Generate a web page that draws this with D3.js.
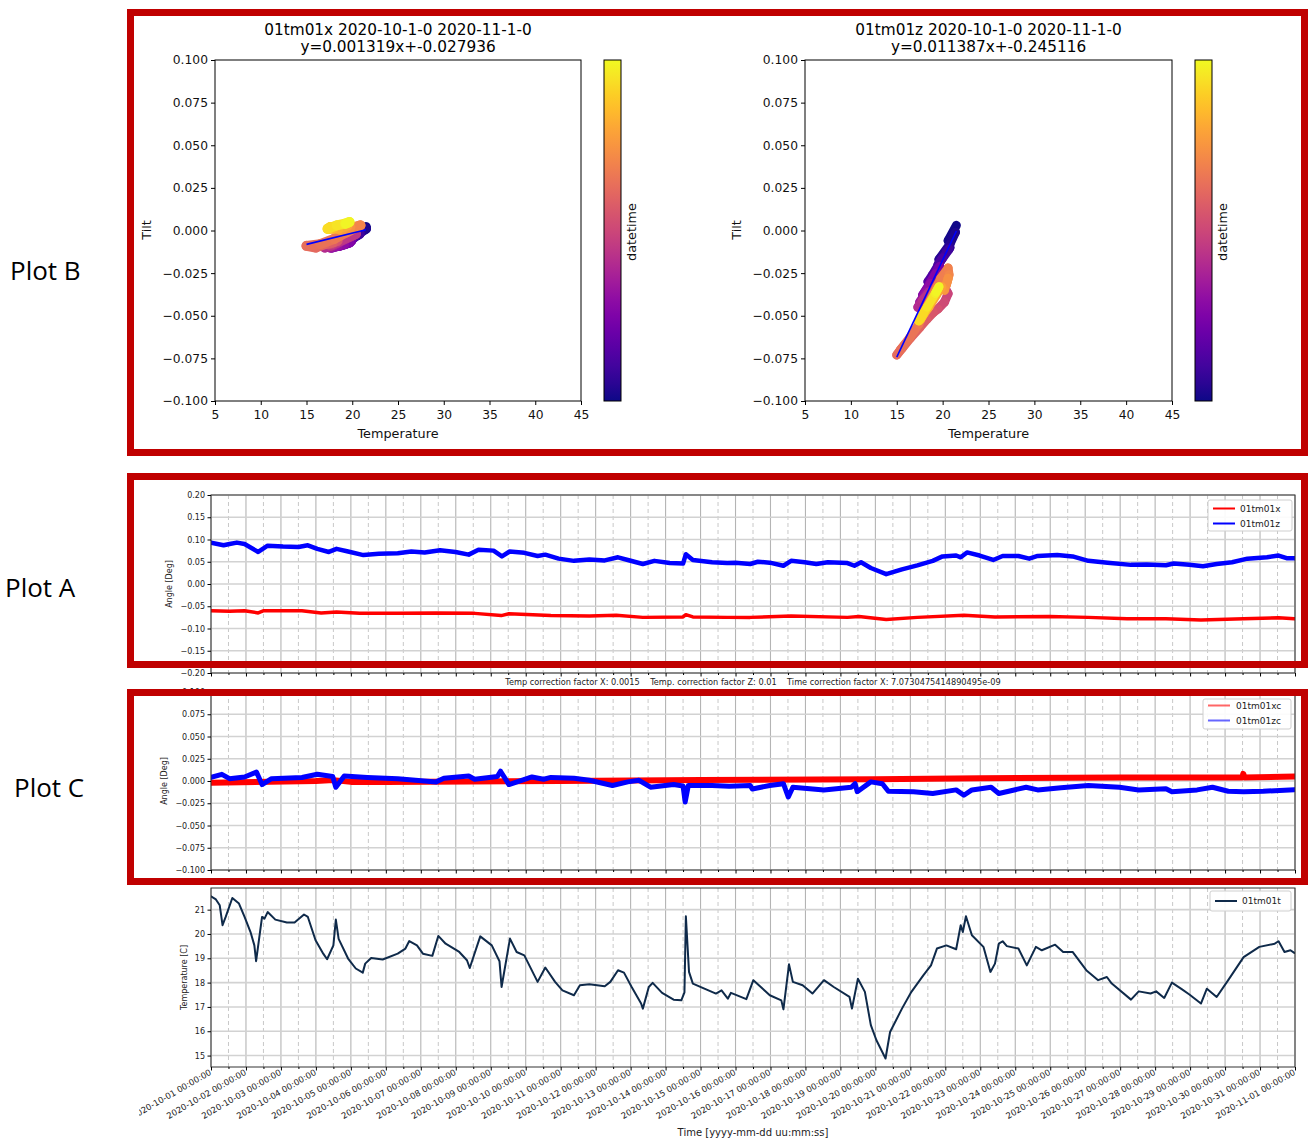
<!DOCTYPE html>
<html>
<head>
<meta charset="utf-8">
<script src="https://cdn.jsdelivr.net/npm/d3@7"></script>
<style>
  body { margin: 0; background: #fff; }
  svg { display: block; }
  text { font-family: "DejaVu Sans", sans-serif; fill: #222; }
  .side { font-family: "Open Sans", "Noto Sans", sans-serif; fill: #000; }
</style>
</head>
<body>
<svg id="fig" width="1309" height="1140"></svg>
<script>
// ---------- data ----------
// Tilt vs temperature scatter, [day since 2020-10-01, temperature, tilt]
const scatterX = [
  [0.0,21.5,0.002],[0.3,20.5,-0.001],[0.6,21.5,0.001],[1.0,20.6,-0.002],[1.3,20.1,-0.004],[1.6,20.9,-0.001],
  [2.2,20.5,-0.003],[2.8,20.8,-0.002],[3.2,19.3,-0.005],[3.6,20.2,-0.004],[4.1,18.9,-0.008],[4.4,18.4,-0.009],
  [5.0,19.0,-0.008],[5.6,19.7,-0.007],[6.3,19.2,-0.008],[6.6,19.9,-0.006],[7.4,18.6,-0.009],[8.0,19.7,-0.007],
  [8.3,17.8,-0.010],[9.0,19.1,-0.008],[9.6,18.4,-0.009],[10.2,17.6,-0.010],[11.0,17.9,-0.009],[11.7,18.5,-0.007],
  [12.4,17.0,-0.010],[13.0,17.6,-0.009],[13.6,20.4,-0.002],[14.0,17.8,-0.008],[15.0,17.5,-0.008],[16.0,17.4,-0.008],
  [16.6,18.4,-0.006],[17.5,17.9,-0.007],[18.3,17.0,-0.008],[18.9,16.0,-0.010],[19.3,15.0,-0.009],[19.8,16.5,-0.008],
  [20.3,18.0,-0.005],[20.8,19.4,-0.001],[21.3,20.5,0.002],[21.6,20.9,0.003],[22.2,19.5,0.001],[22.6,19.8,0.002],
  [23.3,18.8,0.000],[24.2,19.5,0.003],[25.0,18.5,0.001],[25.8,17.9,0.001],[26.5,17.5,0.001],[27.3,17.4,0.001],
  [28.0,17.6,0.002],[28.5,17.3,0.001],[29.2,18.3,0.003],[29.8,19.2,0.004],[30.5,19.7,0.005],[31.0,19.3,0.004]
];
const scatterZ = [
  [0.0,21.5,0.003],[0.3,20.6,-0.006],[0.6,21.4,-0.001],[1.0,20.8,-0.008],[1.3,19.6,-0.017],[1.6,20.8,-0.010],
  [2.2,20.4,-0.012],[2.8,20.7,-0.011],[3.2,19.5,-0.020],[3.6,20.0,-0.016],[4.1,18.9,-0.026],[4.4,18.4,-0.030],
  [5.0,18.9,-0.028],[5.6,19.5,-0.022],[6.3,19.1,-0.027],[6.6,19.7,-0.021],[7.4,18.6,-0.031],[8.0,19.3,-0.025],
  [8.3,17.8,-0.038],[9.0,18.7,-0.031],[9.6,18.2,-0.036],[10.2,17.5,-0.042],[11.0,17.9,-0.040],[11.7,18.5,-0.036],
  [12.4,17.3,-0.045],[13.0,17.8,-0.041],[13.6,19.8,-0.030],[14.2,20.3,-0.034],[15.0,20.6,-0.037],[15.6,20.2,-0.042],
  [16.3,19.5,-0.046],[17.0,19.0,-0.048],[17.6,18.3,-0.052],[18.2,17.5,-0.057],[18.7,16.5,-0.063],[19.0,15.6,-0.069],
  [19.3,15.0,-0.073],[19.6,15.4,-0.070],[20.0,16.4,-0.063],[20.4,17.4,-0.055],[20.9,19.8,-0.028],[21.4,20.6,-0.022],
  [21.7,20.7,-0.026],[22.2,20.4,-0.032],[22.6,20.6,-0.028],[23.2,20.2,-0.035],[24.0,19.9,-0.033],[24.7,19.3,-0.038],
  [25.4,18.5,-0.045],[26.2,17.7,-0.051],[27.0,17.9,-0.049],[27.8,17.6,-0.052],[28.4,17.4,-0.053],[29.2,18.3,-0.045],
  [29.8,19.2,-0.037],[30.5,19.6,-0.033],[31.0,19.3,-0.036]
];
const scatterNames = ["01tm01x", "01tm01z"];
const fitSlopes = [0.001319, 0.011387];
const fitIntercepts = [-0.027936, -0.245116];
const periodLabel = "2020-10-1-0 2020-11-1-0";

// Raw angles, [day, deg]
const angleX = [
  [0,-0.060],[0.53,-0.061],[0.96,-0.060],[1.35,-0.065],[1.51,-0.060],[2.6,-0.060],[3.15,-0.065],[3.59,-0.063],
  [4.25,-0.066],[5.34,-0.066],[6.44,-0.065],[7.54,-0.066],[8.3,-0.071],[8.52,-0.067],[9.72,-0.071],[10.82,-0.072],
  [11.59,-0.070],[12.35,-0.075],[13.5,-0.074],[13.58,-0.069],[13.78,-0.074],[14.76,-0.075],[15.42,-0.075],
  [16.59,-0.072],[18.2,-0.075],[18.53,-0.073],[19.31,-0.080],[20.2,-0.075],[21.53,-0.070],[22.42,-0.074],
  [23.98,-0.073],[25.09,-0.075],[26.2,-0.078],[27.31,-0.078],[28.31,-0.081],[29.53,-0.078],[30.53,-0.076],[30.98,-0.078]
];
const angleZ = [
  [0,0.093],[0.36,0.087],[0.53,0.090],[0.74,0.093],[0.96,0.090],[1.35,0.072],[1.62,0.086],[2.06,0.084],[2.5,0.083],
  [2.77,0.087],[3.04,0.079],[3.37,0.072],[3.59,0.079],[3.92,0.073],[4.36,0.065],[4.8,0.068],[5.34,0.069],[5.73,0.073],
  [6.11,0.071],[6.55,0.076],[6.99,0.072],[7.37,0.066],[7.65,0.077],[8.08,0.075],[8.32,0.062],[8.54,0.073],[8.96,0.070],
  [9.34,0.063],[9.56,0.066],[9.94,0.057],[10.38,0.052],[10.82,0.055],[11.26,0.053],[11.64,0.060],[11.92,0.054],
  [12.35,0.045],[12.68,0.052],[13.12,0.047],[13.5,0.046],[13.58,0.067],[13.78,0.054],[14.33,0.049],[14.76,0.047],
  [15.0,0.048],[15.42,0.045],[15.64,0.050],[15.98,0.048],[16.37,0.041],[16.59,0.052],[16.98,0.049],[17.31,0.045],
  [17.64,0.049],[18.2,0.047],[18.4,0.041],[18.59,0.049],[18.87,0.036],[19.31,0.022],[19.76,0.033],[20.2,0.042],
  [20.64,0.052],[20.92,0.062],[21.31,0.064],[21.44,0.060],[21.62,0.071],[21.98,0.064],[22.37,0.054],[22.64,0.063],
  [23.09,0.063],[23.4,0.057],[23.64,0.063],[24.2,0.065],[24.64,0.062],[25.09,0.052],[25.64,0.048],[26.31,0.043],
  [26.76,0.044],[27.31,0.042],[27.53,0.046],[27.98,0.043],[28.37,0.040],[28.76,0.045],[29.2,0.049],[29.64,0.057],
  [30.2,0.060],[30.53,0.064],[30.76,0.058],[30.98,0.058]
];
// Corrected angles, [day, deg]
const angleXc = [
  [0,-0.002],[3.0,0.000],[3.5,0.001],[4.0,-0.001],[5,-0.001],[10,0.000],[14,0.001],[19,0.002],[22,0.003],[26,0.004],
  [29.5,0.004],[29.52,0.008],[29.55,0.004],[31,0.005]
];
const angleZc = [
  [0,0.004],[0.31,0.0075],[0.53,0.0026],[0.96,0.0045],[1.3,0.010],[1.46,-0.004],[1.73,0.0026],[2.6,0.004],[3.04,0.0075],
  [3.48,0.005],[3.57,-0.007],[3.81,0.0056],[4.47,0.004],[5.34,0.0026],[6.44,-0.001],[6.66,0.003],[7.37,0.0056],[7.54,0.002],
  [8.19,0.005],[8.28,0.011],[8.52,-0.004],[9.18,0.0045],[9.51,0.002],[9.72,0.004],[10.38,0.003],[10.82,0.0008],
  [11.48,-0.005],[11.92,-0.001],[12.24,0.0008],[12.57,-0.007],[13.23,-0.004],[13.5,-0.0056],[13.56,-0.0235],[13.65,-0.005],
  [14.33,-0.005],[14.82,-0.006],[15.42,-0.005],[15.48,-0.009],[15.98,-0.005],[16.37,-0.003],[16.51,-0.018],[16.64,-0.007],
  [17.53,-0.010],[18.31,-0.007],[18.42,-0.003],[18.48,-0.012],[18.87,-0.001],[19.2,-0.003],[19.37,-0.0115],[20.09,-0.012],
  [20.64,-0.014],[21.31,-0.010],[21.53,-0.016],[21.76,-0.010],[22.31,-0.007],[22.53,-0.014],[23.31,-0.007],[23.64,-0.010],
  [24.31,-0.0075],[25.09,-0.005],[25.98,-0.007],[26.53,-0.010],[27.31,-0.0086],[27.48,-0.012],[28.2,-0.010],[28.64,-0.007],
  [29.09,-0.0115],[29.53,-0.012],[30.09,-0.0115],[30.98,-0.0097]
];
// Temperature, [day, deg C]
const temperature = [
  [0,21.55],[0.14,21.42],[0.25,21.18],[0.33,20.36],[0.42,20.7],[0.61,21.48],[0.8,21.25],[0.96,20.7],[1.13,20.08],
  [1.24,19.53],[1.29,18.88],[1.46,20.7],[1.53,20.63],[1.62,20.9],[1.84,20.59],[2.17,20.47],[2.39,20.47],[2.66,20.8],
  [2.77,20.7],[2.99,19.74],[3.21,19.19],[3.32,18.96],[3.5,19.53],[3.57,20.59],[3.65,19.8],[3.92,18.99],[4.14,18.58],
  [4.34,18.41],[4.41,18.78],[4.58,19.01],[4.91,18.95],[5.34,19.19],[5.56,19.4],[5.67,19.71],[5.89,19.53],[6.06,19.19],
  [6.33,19.1],[6.5,19.92],[6.71,19.6],[7.1,19.26],[7.32,18.92],[7.4,18.6],[7.7,19.9],[8.03,19.53],[8.25,18.88],
  [8.31,17.82],[8.55,19.81],[8.74,19.26],[8.96,19.12],[9.34,18.03],[9.56,18.62],[9.84,18.03],[10.05,17.68],
  [10.38,17.48],[10.55,17.89],[10.82,17.93],[11.26,17.85],[11.42,18.03],[11.64,18.51],[11.81,18.41],[12.03,17.82],
  [12.3,17.14],[12.35,16.93],[12.52,17.82],[12.63,17.99],[12.9,17.58],[13.23,17.3],[13.45,17.27],[13.54,17.6],
  [13.58,20.73],[13.67,18.44],[13.78,17.96],[14.11,17.75],[14.44,17.55],[14.6,17.68],[14.78,17.34],[14.87,17.58],
  [15.31,17.32],[15.51,18.1],[15.98,17.48],[16.31,17.27],[16.37,16.9],[16.53,18.75],[16.64,18.03],[16.92,17.89],
  [17.2,17.55],[17.53,18.1],[17.81,17.82],[18.26,17.41],[18.33,16.93],[18.5,18.16],[18.7,17.62],[18.87,16.25],
  [19.03,15.63],[19.29,14.88],[19.42,15.97],[19.76,16.93],[20.03,17.62],[20.37,18.3],[20.59,18.71],[20.76,19.4],
  [21.03,19.53],[21.31,19.37],[21.44,20.36],[21.5,20.08],[21.59,20.73],[21.76,19.95],[22.09,19.47],[22.29,18.44],
  [22.42,18.78],[22.53,19.6],[22.64,19.7],[22.76,19.5],[23.09,19.4],[23.33,18.71],[23.59,19.47],[23.76,19.33],
  [24.14,19.56],[24.37,19.26],[24.64,19.26],[25.03,18.51],[25.37,18.1],[25.62,18.23],[25.76,17.96],[26.31,17.3],
  [26.53,17.64],[26.87,17.55],[27.03,17.64],[27.26,17.37],[27.48,18.0],[27.76,17.73],[27.98,17.51],[28.31,17.14],
  [28.48,17.75],[28.76,17.41],[29.09,18.1],[29.53,19.05],[29.98,19.47],[30.42,19.6],[30.53,19.7],[30.7,19.26],
  [30.87,19.33],[30.98,19.22]
];

const tiltTicks = [-0.1, -0.075, -0.05, -0.025, 0, 0.025, 0.05, 0.075, 0.1];
const tempAxisTicks = [5, 10, 15, 20, 25, 30, 35, 40, 45];
const angleTicksA = [-0.2, -0.15, -0.1, -0.05, 0, 0.05, 0.1, 0.15, 0.2];
const angleTicksC = [-0.1, -0.075, -0.05, -0.025, 0, 0.025, 0.05, 0.075, 0.1];
const tempTicks = [15, 16, 17, 18, 19, 20, 21];
const correctionNote = "Temp correction factor X: 0.0015    Temp. correction factor Z: 0.01    Time correction factor X: 7.0730475414890495e-09";
const sideLabels = ["Plot B", "Plot A", "Plot C"];

// ---------- drawing ----------
const svg = d3.select("#fig");
const defs = svg.append("defs");
const plasma = d3.interpolatePlasma;
const DAY = 864e5;
const t0 = Date.UTC(2020, 9, 1);
const toDate = d => new Date(t0 + d * DAY);

// colorbar gradient
const grad = defs.append("linearGradient").attr("id", "plasmaGrad")
  .attr("x1", 0).attr("y1", 1).attr("x2", 0).attr("y2", 0);
d3.range(0, 1.0001, 0.05).forEach(t => grad.append("stop").attr("offset", t).attr("stop-color", plasma(t)));

function scatterPanel(cfg) {
  const g = svg.append("g");
  const xs = d3.scaleLinear().domain([5, 45]).range([cfg.x0, cfg.x1]);
  const ys = d3.scaleLinear().domain([-0.1, 0.1]).range([401, 60]);
  const cx = (cfg.x0 + cfg.x1) / 2;

  g.append("text").attr("x", cx).attr("y", 35).attr("text-anchor", "middle")
    .style("font-size", "15.3px").style("fill", "#000").text(cfg.name + " " + periodLabel);
  g.append("text").attr("x", cx).attr("y", 52).attr("text-anchor", "middle")
    .style("font-size", "15.3px").style("fill", "#000")
    .text("y=" + cfg.slope.toFixed(6) + "x+" + cfg.intercept.toFixed(6));

  const clipId = "clip-" + cfg.name;
  defs.append("clipPath").attr("id", clipId).append("rect")
    .attr("x", cfg.x0).attr("y", 60).attr("width", cfg.x1 - cfg.x0).attr("height", 341);
  const marks = g.append("g").attr("clip-path", `url(#${clipId})`);

  const pts = cfg.data;
  const segs = d3.pairs(pts);
  marks.selectAll("line.seg").data(segs).join("line")
    .attr("x1", d => xs(d[0][1])).attr("y1", d => ys(d[0][2]))
    .attr("x2", d => xs(d[1][1])).attr("y2", d => ys(d[1][2]))
    .attr("stroke", d => plasma((d[0][0] + d[1][0]) / 2 / 31))
    .attr("stroke-width", cfg.markWidth).attr("stroke-linecap", "round");

  const ext = d3.extent(pts, d => d[1]);
  marks.append("line")
    .attr("x1", xs(ext[0])).attr("y1", ys(cfg.slope * ext[0] + cfg.intercept))
    .attr("x2", xs(ext[1])).attr("y2", ys(cfg.slope * ext[1] + cfg.intercept))
    .attr("stroke", "#0000ff").attr("stroke-width", 1.6);

  g.append("rect").attr("x", cfg.x0).attr("y", 60).attr("width", cfg.x1 - cfg.x0).attr("height", 341)
    .attr("fill", "none").attr("stroke", "#000").attr("stroke-width", 1);

  const ax = g.append("g").attr("transform", "translate(0,401)")
    .call(d3.axisBottom(xs).tickValues(tempAxisTicks).tickFormat(d3.format("d")).tickSize(4).tickPadding(5));
  const ay = g.append("g").attr("transform", `translate(${cfg.x0},0)`)
    .call(d3.axisLeft(ys).tickValues(tiltTicks).tickFormat(d3.format(".3f")).tickSize(4).tickPadding(3));
  [ax, ay].forEach(a => {
    a.select(".domain").remove();
    a.selectAll("text").style("font-size", "12.3px").style("font-family", "DejaVu Sans").style("fill", "#111");
  });

  g.append("text").attr("x", cx).attr("y", 438).attr("text-anchor", "middle")
    .style("font-size", "12.8px").style("fill", "#111").text("Temperature");
  g.append("text").attr("transform", `translate(${cfg.x0 - 64},230) rotate(-90)`).attr("text-anchor", "middle")
    .style("font-size", "12.8px").style("fill", "#111").text("Tilt");

  g.append("rect").attr("x", cfg.cb).attr("y", 60).attr("width", 17).attr("height", 341)
    .attr("fill", "url(#plasmaGrad)").attr("stroke", "#000").attr("stroke-width", 1);
  g.append("text").attr("transform", `translate(${cfg.cb + 32},232) rotate(-90)`).attr("text-anchor", "middle")
    .style("font-size", "12.8px").style("fill", "#111").text("datetime");
}

scatterPanel({ name: scatterNames[0], data: scatterX, slope: fitSlopes[0], intercept: fitIntercepts[0], x0: 215, x1: 581, cb: 604, markWidth: 10 });
scatterPanel({ name: scatterNames[1], data: scatterZ, slope: fitSlopes[1], intercept: fitIntercepts[1], x0: 805, x1: 1172, cb: 1195, markWidth: 9 });

// shared time axis
const xTime = d3.scaleUtc().domain([new Date(t0), new Date(Date.UTC(2020, 10, 1))]).range([211, 1295]);
const days = d3.utcDay.range(xTime.domain()[0], new Date(+xTime.domain()[1] + 1));
const halfDays = days.slice(0, -1).map(d => d3.utcHour.offset(d, 12));
const dateFmt = d3.utcFormat("%Y-%m-%d %H:%M:%S");

function timePanel(cfg) {
  const g = svg.append("g");
  const [x0, x1] = xTime.range();
  const y = d3.scaleLinear().domain(cfg.yDomain).range([cfg.bottom, cfg.top]);

  // grid
  g.append("g").selectAll("line").data(halfDays).join("line")
    .attr("x1", d => xTime(d)).attr("x2", d => xTime(d)).attr("y1", cfg.top).attr("y2", cfg.bottom)
    .attr("stroke", "#c8c8c8").attr("stroke-width", 1).attr("stroke-dasharray", "4,3");
  g.append("g").selectAll("line").data(days).join("line")
    .attr("x1", d => xTime(d)).attr("x2", d => xTime(d)).attr("y1", cfg.top).attr("y2", cfg.bottom)
    .attr("stroke", "#b4b4b4").attr("stroke-width", 1.1);
  g.append("g").selectAll("line").data(cfg.yTicks).join("line")
    .attr("x1", x0).attr("x2", x1).attr("y1", d => y(d)).attr("y2", d => y(d))
    .attr("stroke", "#d2d2d2").attr("stroke-width", 1.6);

  // series
  const clipId = "clip-" + cfg.id;
  defs.append("clipPath").attr("id", clipId).append("rect")
    .attr("x", x0).attr("y", cfg.top).attr("width", x1 - x0).attr("height", cfg.bottom - cfg.top);
  const lines = g.append("g").attr("clip-path", `url(#${clipId})`);
  const line = d3.line().x(d => xTime(toDate(d[0]))).y(d => y(d[1]));
  cfg.series.forEach(s => {
    lines.append("path").datum(s.data).attr("d", line)
      .attr("fill", "none").attr("stroke", s.color).attr("stroke-width", s.width)
      .attr("stroke-linejoin", "round").attr("stroke-linecap", "round");
  });

  // frame
  g.append("rect").attr("x", x0).attr("y", cfg.top).attr("width", x1 - x0).attr("height", cfg.bottom - cfg.top)
    .attr("fill", "none").attr("stroke", "#333").attr("stroke-width", 1);

  // axes
  const ay = g.append("g").attr("transform", `translate(${x0},0)`)
    .call(d3.axisLeft(y).tickValues(cfg.yTicks).tickFormat(cfg.fmt).tickSize(3.5).tickPadding(2.5));
  ay.select(".domain").remove();
  ay.selectAll("text").style("font-size", "8px").style("font-family", "DejaVu Sans").style("fill", "#222");

  const axM = g.append("g").attr("transform", `translate(0,${cfg.bottom})`)
    .call(d3.axisBottom(xTime).tickValues(days).tickFormat("").tickSize(3.5));
  const axm = g.append("g").attr("transform", `translate(0,${cfg.bottom})`)
    .call(d3.axisBottom(xTime).tickValues(halfDays).tickFormat("").tickSize(2));
  axM.select(".domain").remove();
  axm.select(".domain").remove();

  g.append("text").attr("transform", `translate(${cfg.yLabelX},${(cfg.top + cfg.bottom) / 2}) rotate(-90)`)
    .attr("text-anchor", "middle").style("font-size", "8px").style("fill", "#222").text(cfg.yLabel);

  // legend
  const L = cfg.legend;
  const lg = g.append("g");
  lg.append("rect").attr("x", L.x).attr("y", L.y).attr("width", L.w).attr("height", L.h).attr("rx", 2)
    .attr("fill", "#fff").attr("fill-opacity", 0.9).attr("stroke", "#cfcfcf").attr("stroke-width", 1);
  cfg.series.forEach((s, i) => {
    const ly = L.y + L.first + i * L.step;
    lg.append("line").attr("x1", L.x + 5).attr("x2", L.x + 27).attr("y1", ly).attr("y2", ly)
      .attr("stroke", s.color).attr("stroke-width", 2).attr("stroke-opacity", s.legendOpacity || 1);
    lg.append("text").attr("x", L.x + L.textDx).attr("y", ly + 3).style("font-size", "9px").style("fill", "#222").text(s.name);
  });
  return g;
}

timePanel({
  id: "A", top: 495, bottom: 673, yDomain: [-0.2, 0.2], yTicks: angleTicksA, fmt: d3.format(".2f"),
  yLabel: "Angle [Deg]", yLabelX: 172,
  series: [
    { name: "01tm01x", data: angleX, color: "#ff0000", width: 3.5 },
    { name: "01tm01z", data: angleZ, color: "#0000ff", width: 4.5 }
  ],
  legend: { x: 1208, y: 500, w: 84, h: 31, first: 8.5, step: 15, textDx: 32 }
});

timePanel({
  id: "C", top: 692, bottom: 870, yDomain: [-0.1, 0.1], yTicks: angleTicksC, fmt: d3.format(".3f"),
  yLabel: "Angle [Deg]", yLabelX: 167,
  series: [
    { name: "01tm01xc", data: angleXc, color: "#ff0000", width: 6, legendOpacity: 0.6 },
    { name: "01tm01zc", data: angleZc, color: "#0000ff", width: 5, legendOpacity: 0.6 }
  ],
  legend: { x: 1203, y: 699, w: 88, h: 30, first: 6.5, step: 15, textDx: 33 }
});

timePanel({
  id: "T", top: 888, bottom: 1067, yDomain: [14.53, 21.89], yTicks: tempTicks, fmt: d3.format("d"),
  yLabel: "Temperature [C]", yLabelX: 187,
  series: [
    { name: "01tm01t", data: temperature, color: "#0f2a4a", width: 2 }
  ],
  legend: { x: 1210, y: 891, w: 81, h: 20, first: 10, step: 15, textDx: 32 }
});

// correction note between the angle panels
svg.append("text").attr("x", 753).attr("y", 685).attr("text-anchor", "middle")
  .style("font-size", "8.2px").style("white-space", "pre").style("fill", "#222").text(correctionNote);

// date tick labels
defs.append("clipPath").attr("id", "clip-dates").append("rect")
  .attr("x", 139).attr("y", 1066).attr("width", 1170).attr("height", 62);
svg.append("g").attr("clip-path", "url(#clip-dates)")
  .selectAll("text").data(days).join("text")
  .attr("transform", d => `translate(${xTime(d) + 1},${1074}) rotate(-30)`)
  .attr("text-anchor", "end").style("font-size", "8.5px").style("fill", "#222")
  .text(d => dateFmt(d));
svg.append("text").attr("x", 753).attr("y", 1136).attr("text-anchor", "middle")
  .style("font-size", "10px").style("fill", "#222").text("Time [yyyy-mm-dd uu:mm:ss]");

// highlight frames
const frames = [[127, 9, 1308, 456], [127, 473, 1308, 668], [127, 689, 1308, 885]];
svg.append("g").selectAll("rect").data(frames).join("rect")
  .attr("x", d => d[0] + 3.5).attr("y", d => d[1] + 3.5)
  .attr("width", d => d[2] - d[0] - 7).attr("height", d => d[3] - d[1] - 7)
  .attr("fill", "none").attr("stroke", "#c00000").attr("stroke-width", 7);

// side captions
const sidePos = [[10, 280], [5, 597], [14, 797]];
svg.append("g").selectAll("text").data(sideLabels).join("text")
  .attr("class", "side").attr("x", (d, i) => sidePos[i][0]).attr("y", (d, i) => sidePos[i][1])
  .style("font-size", "26px").text(d => d);
</script>
</body>
</html>
